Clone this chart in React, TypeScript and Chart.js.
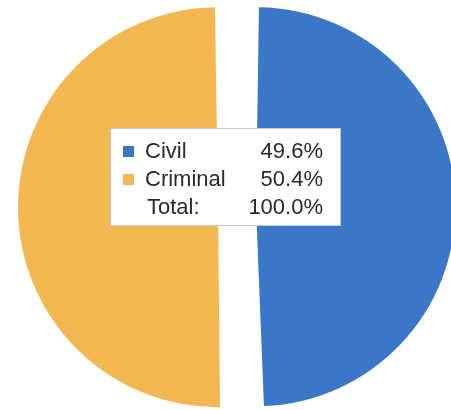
import React, { useEffect, useRef } from "react";
import { Chart, registerables } from "chart.js";

Chart.register(...registerables);

const categories = ["Civil", "Criminal"];
const shares = [49.6, 50.4];
const sliceColors = ["#3B77C7", "#F4B852"];
const totalLabel = "Total:";

const legendPlugin = {
  id: "centerLegend",
  afterDraw(chart: any) {
    const ctx = chart.ctx;
    ctx.save();
    const bx = 110.5, by = 128.5, bw = 230, bh = 97;
    ctx.fillStyle = "#ffffff";
    ctx.fillRect(bx, by, bw, bh);
    ctx.strokeStyle = "#c9c9c9";
    ctx.lineWidth = 1;
    ctx.strokeRect(bx, by, bw, bh);
    ctx.font = "22px 'Liberation Sans', Arial, sans-serif";
    ctx.textBaseline = "alphabetic";
    const baselines = [158, 186, 214];
    const total = shares.reduce((a, b) => a + b, 0);
    categories.forEach((c, i) => {
      ctx.fillStyle = sliceColors[i];
      ctx.fillRect(123, baselines[i] - 12, 11, 11);
      ctx.fillStyle = "#2a2a2a";
      ctx.textAlign = "left";
      ctx.fillText(c, 145, baselines[i]);
      ctx.textAlign = "right";
      ctx.fillText(shares[i].toFixed(1) + "%", 323, baselines[i]);
    });
    ctx.fillStyle = "#2a2a2a";
    ctx.textAlign = "left";
    ctx.fillText(totalLabel, 147, baselines[2]);
    ctx.textAlign = "right";
    ctx.fillText(total.toFixed(1) + "%", 323, baselines[2]);
    ctx.restore();
  },
};

export default function App() {
  const ref = useRef<HTMLCanvasElement | null>(null);
  useEffect(() => {
    if (!ref.current) return;
    const chart = new Chart(ref.current, {
      type: "pie",
      data: {
        labels: categories,
        datasets: [
          {
            data: shares,
            backgroundColor: sliceColors,
            borderWidth: 0,
            offset: 76,
            clip: false,
          } as any,
        ],
      },
      options: {
        responsive: false,
        animation: false,
        devicePixelRatio: 1,
        radius: 181,
        layout: { padding: { left: 23, top: 4, right: 0, bottom: 0 } },
        plugins: {
          legend: { display: false },
          tooltip: { enabled: false },
        },
      } as any,
      plugins: [legendPlugin],
    });
    return () => chart.destroy();
  }, []);
  return (
    <div style={{ position: "absolute", left: 0, top: 0, width: 451, height: 410, background: "#fff" }}>
      <canvas ref={ref} width={451} height={410} />
    </div>
  );
}
